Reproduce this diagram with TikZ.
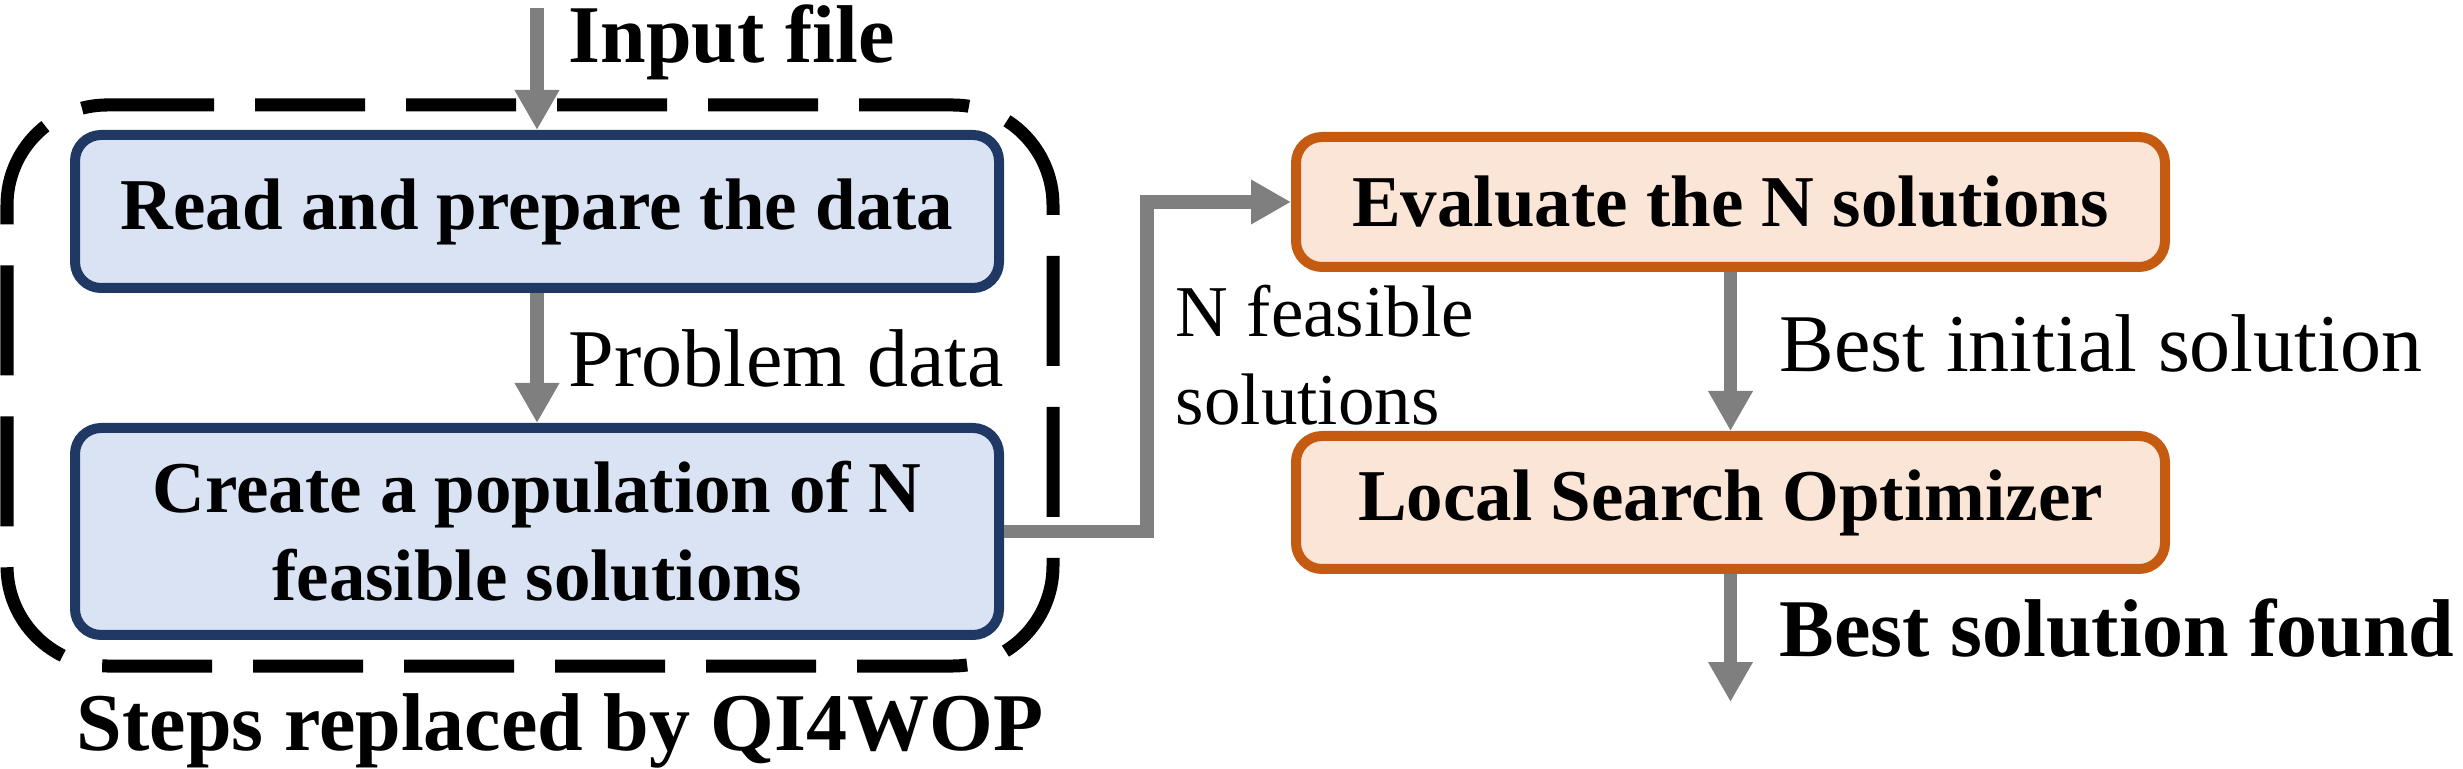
\documentclass[tikz,border=0pt]{standalone}
\usepackage{fontspec}
\setmainfont{Liberation Serif}
\usetikzlibrary{arrows.meta}
\definecolor{bluefill}{HTML}{DAE3F3}
\definecolor{blueline}{HTML}{203864}
\definecolor{orangefill}{HTML}{FBE5D6}
\definecolor{orangeline}{HTML}{C55A11}
\definecolor{arrowgray}{HTML}{7F7F7F}
\begin{document}
\begin{tikzpicture}[x=0.25pt,y=-0.25pt,
  boxbase/.style={line width=2.5pt,rounded corners=6.5pt,inner sep=0pt,align=center,
    font=\bfseries\fontsize{18.25}{22}\selectfont},
  bluebox/.style={boxbase,draw=blueline,fill=bluefill,minimum width=231pt},
  orangebox/.style={boxbase,draw=orangeline,fill=orangefill,minimum width=217.25pt},
  conn/.style={draw=arrowgray,line width=3.4pt,-{Triangle[length=10pt,width=10.5pt]}},
  frame/.style={draw=black,line width=3.25pt,dash pattern=on 27.5pt off 10.25pt,rounded corners=25pt},
  biglab/.style={inner sep=0pt,anchor=base west,font=\fontsize{20.5}{24}\selectfont},
  smalllab/.style={inner sep=0pt,anchor=base west,font=\fontsize{18.25}{22}\selectfont}]
\useasboundingbox (0,0) rectangle (2463,769);

% dashed frame
\draw[frame] (104,105) -- (1053,105) -- (1053,666) -- (7,666) -- (7,105) -- (104,105);

% boxes
\node[bluebox,minimum height=38.25pt] (read) at (537,211.5) {Read and prepare the data};
\node[bluebox,minimum height=51.75pt] (create) at (537,531.5) {Create a population of N\\feasible solutions};
\node[orangebox,minimum height=32.5pt] (eval) at (1730.5,202) {Evaluate the N solutions};
\node[orangebox,minimum height=33.25pt] (lso) at (1730.5,502.5) {Local Search Optimizer};

% free ends
\coordinate (in) at (537,8);
\coordinate (out) at (1730.5,702);
\coordinate (bend) at (1147,202);

% connectors
\draw[conn] (in) -- (read.north);
\draw[conn] (read.south) -- (create.north);
\draw[conn] (create.east) -| (bend) -- (eval.west);
\draw[conn] (eval.south) -- (lso.north);
\draw[conn] (lso.south) -- (out);

% labels
\node[biglab,font=\bfseries\fontsize{20.5}{24}\selectfont] (linput) at (568,63) {Input file};
\node[biglab] (lprob) at (568,387) {Problem data};
\node[biglab,font=\bfseries\fontsize{20.5}{24}\selectfont] (lsteps) at (76,750) {Steps replaced by QI4WOP};
\node[smalllab] (lnfeas) at (1175,337) {\begin{tabular}[t]{@{}l@{}}N feasible\\solutions\end{tabular}};
\node[biglab] (lbestinit) at (1779,372) {Best initial solution};
\node[biglab,font=\bfseries\fontsize{20.5}{24}\selectfont] (lbest) at (1779,657) {Best solution found};
\end{tikzpicture}
\end{document}
